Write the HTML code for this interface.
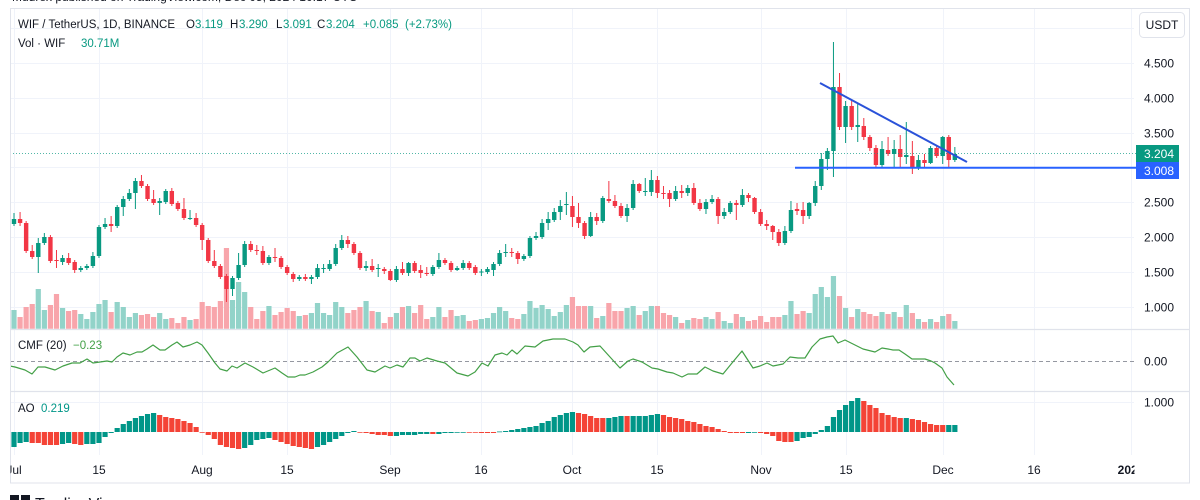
<!DOCTYPE html>
<html>
<head>
<meta charset="utf-8">
<style>
html,body{margin:0;padding:0;background:#fff;width:1200px;height:500px;overflow:hidden}
svg{display:block}
text{font-family:"Liberation Sans",Arial,sans-serif;fill:#131722}
</style>
</head>
<body>
<svg id="chart" width="1200" height="500" viewBox="0 0 1200 500" xmlns="http://www.w3.org/2000/svg">
  <defs>
    <clipPath id="paneClip"><rect x="10.5" y="8.5" width="1124" height="447"/></clipPath>
    <clipPath id="timeClip"><rect x="10.5" y="456" width="1124" height="26"/></clipPath>
  </defs>
  <rect x="0" y="0" width="1200" height="500" fill="#ffffff"/>
  <!-- top clipped attribution line -->
  <text x="12" y="1" font-size="12" fill="#131722">Mudrex published on TradingView.com, Dec 05, 2024 10:17 UTC</text>

  <!-- grid -->
  <g stroke="#f0f3fa" stroke-width="1">
    <line x1="10" y1="28.5" x2="1134" y2="28.5"/>
    <line x1="10" y1="63.5" x2="1134" y2="63.5"/>
    <line x1="10" y1="98.5" x2="1134" y2="98.5"/>
    <line x1="10" y1="133.5" x2="1134" y2="133.5"/>
    <line x1="10" y1="167.5" x2="1134" y2="167.5"/>
    <line x1="10" y1="202.5" x2="1134" y2="202.5"/>
    <line x1="10" y1="237.5" x2="1134" y2="237.5"/>
    <line x1="10" y1="272.5" x2="1134" y2="272.5"/>
    <line x1="10" y1="307.5" x2="1134" y2="307.5"/>
    <line x1="10" y1="402.5" x2="1134" y2="402.5"/>
    <line x1="14.5" y1="8" x2="14.5" y2="455"/>
    <line x1="99.5" y1="8" x2="99.5" y2="455"/>
    <line x1="202.5" y1="8" x2="202.5" y2="455"/>
    <line x1="287.5" y1="8" x2="287.5" y2="455"/>
    <line x1="390.5" y1="8" x2="390.5" y2="455"/>
    <line x1="481.5" y1="8" x2="481.5" y2="455"/>
    <line x1="572.5" y1="8" x2="572.5" y2="455"/>
    <line x1="657.5" y1="8" x2="657.5" y2="455"/>
    <line x1="761.5" y1="8" x2="761.5" y2="455"/>
    <line x1="846.5" y1="8" x2="846.5" y2="455"/>
    <line x1="943.5" y1="8" x2="943.5" y2="455"/>
    <line x1="1034.5" y1="8" x2="1034.5" y2="455"/>
    <line x1="1131.5" y1="8" x2="1131.5" y2="455"/>
  </g>

  <!-- pane separators -->
  <g stroke="#e0e3eb" stroke-width="1.2">
    <line x1="10" y1="329.5" x2="1190" y2="329.5"/>
    <line x1="10" y1="391.5" x2="1190" y2="391.5"/>
  </g>

  <!-- CMF zero line -->
  <line x1="10" y1="361.5" x2="1134" y2="361.5" stroke="#9598a1" stroke-width="1" stroke-dasharray="4 3"/>

  <g id="plots" clip-path="url(#paneClip)"></g>

  <!-- current price dotted line -->
  <line x1="10" y1="153.5" x2="1136" y2="153.5" stroke="#089981" stroke-opacity="0.7" stroke-width="1" stroke-dasharray="1 2"/>

  <!-- trend lines -->
  <line x1="820" y1="83" x2="967" y2="162" stroke="#2a52d9" stroke-width="2"/>
  <line x1="795" y1="167.8" x2="1136" y2="167.8" stroke="#2962ff" stroke-width="2"/>

  <!-- outer frame -->
  <rect x="10.5" y="8.5" width="1179" height="474.5" fill="none" stroke="#e0e3eb" stroke-width="1"/>

  <!-- USDT button -->
  <rect x="1139.5" y="12.5" width="45" height="25" rx="4" ry="4" fill="#ffffff" stroke="#e0e3eb"/>
  <text x="1162" y="29" font-size="12" text-anchor="middle">USDT</text>

  <!-- price axis labels -->
  <g font-size="12">
    <text x="1144" y="67.5">4.500</text>
    <text x="1144" y="102.5">4.000</text>
    <text x="1144" y="137.5">3.500</text>
    <text x="1144" y="206.5">2.500</text>
    <text x="1144" y="241.5">2.000</text>
    <text x="1144" y="276.5">1.500</text>
    <text x="1144" y="311.5">1.000</text>
    <text x="1144" y="365.5">0.00</text>
    <text x="1144" y="406.5">1.000</text>
  </g>
  <rect x="1136" y="145" width="43" height="17" fill="#089981"/>
  <text x="1144" y="158" font-size="12" style="fill:#ffffff">3.204</text>
  <rect x="1136" y="162" width="43" height="17" fill="#2962ff"/>
  <text x="1144" y="175" font-size="12" style="fill:#ffffff">3.008</text>

  <!-- time axis labels -->
  <g font-size="12" text-anchor="middle" clip-path="url(#timeClip)">
    <text x="14" y="474">Jul</text>
    <text x="99" y="474">15</text>
    <text x="202" y="474">Aug</text>
    <text x="287" y="474">15</text>
    <text x="390" y="474">Sep</text>
    <text x="481" y="474">16</text>
    <text x="572" y="474">Oct</text>
    <text x="657" y="474">15</text>
    <text x="761" y="474">Nov</text>
    <text x="846" y="474">15</text>
    <text x="943" y="474">Dec</text>
    <text x="1034" y="474">16</text>
    <text x="1131" y="474" font-weight="bold">2025</text>
  </g>

  <!-- legends -->
  <g font-size="11.5">
    <text x="18" y="28">WIF / TetherUS, 1D, BINANCE</text>
    <text x="186" y="28">O</text><text x="195" y="28" style="fill:#089981">3.119</text>
    <text x="230" y="28">H</text><text x="239" y="28" style="fill:#089981">3.290</text>
    <text x="276" y="28">L</text><text x="283" y="28" style="fill:#089981">3.091</text>
    <text x="317" y="28">C</text><text x="326" y="28" style="fill:#089981">3.204</text>
    <text x="363" y="28" style="fill:#089981">+0.085</text>
    <text x="405" y="28" style="fill:#089981">(+2.73%)</text>
    <text x="18" y="47">Vol · WIF</text>
    <text x="81" y="47" style="fill:#089981">30.71M</text>
    <text x="18" y="349">CMF (20)</text>
    <text x="73" y="349" style="fill:#43a047">−0.23</text>
    <text x="18" y="412">AO</text>
    <text x="41" y="412" style="fill:#009688">0.219</text>
  </g>

  <!-- bottom logo (clipped) -->
  <rect x="10" y="495" width="9" height="6" fill="#131722"/>
  <rect x="21" y="495" width="9" height="6" fill="#131722"/>
  <text x="35" y="509" font-size="16">TradingView</text>
</svg>

<script>
(function(){
var C=[
[224,219,213,226],[219,223,212,226],[223,251],[251,257,245],[257,243,238,273],[243,237,233],[237,261],[260,261,250,268],[262,258,255,265],[258,263,253],
[262,270,0,273],[270,268],[268,266],[266,256,252],[256,227],[227,224,218],[224,226,216,232],[226,207],[207,199,196,216],[199,193,189],
[193,181,178,209],[181,186,175],[186,199],[199,203,190],[203,201,198,215],[202,191,189],[191,204,188],[203,209],[209,218,198],[219,218,210,220],
[218,225,213],[225,240,0,250],[240,261],[261,266,250],[266,277],[276,289,0,302],[289,278,0,296],[278,265,253],[265,244,241],[244,250,241],
[250,251,245,255],[251,263,246],[263,257],[257,258,248,262],[258,267],[267,273],[274,279,0,282],[279,277],[277,279,274],[279,277,0,284],
[277,268,264],[269,268,264,273],[269,264,260],[264,248,244],[248,240,235],[240,244,236,248],[244,253],[253,268],[268,266,261,271],[266,270,259],
[269,268,264,277],[269,271,267,274],[271,280,0,281],[280,269,266],[269,273,262],[273,263,262,276],[263,271],[270,273,265,278],[273,274,267,276],[274,267],
[267,260,253],[260,263,258],[263,270],[270,268,266,271],[268,263,260],[263,268,261],[267,273],[272,271.5,269,276],[272,269,267],[270,264,262,276],
[264,253,250],[253,252,244,257],[252,253,248,257],[253,259,251,264],[259,256],[256,238],[238,236,232,240],[237,223,219],[223,219,212,230],[220,212,208],
[212,206,200,220],[205,204,192,215],[206,217,196,227],[217,223,203,228],[223,236,0,239],[236,217,212,237],[217,221,213,225],[221,198,196],[199,201,181,203],[201,206,195],
[206,216,203,218],[216,208,204,222],[208,184,180],[184,191,183],[192,191,178,196],[192,180,170,196],[180,193,176,198],[193,194,186,199],[193,199,190,207],[199,191,186],
[191,193,185,198],[193,188,185,196],[188,203,183],[203,209,199],[209,202,199,214],[202,199,195],[199,216,0,224],[216,212,208,219],[212,203,201],[203,205,200,220],
[205,195,189],[195,198,193,202],[198,212,197],[212,224,209],[224,226,220,230],[226,232,225,240],[232,243,229,246],[243,231,226],[231,210,201],[209,211,203,215],
[210,216,202,224],[216,203,202,219],[203,186,181,206],[186,159,153,190],[159,151,148,170],[151,87,42,177],[87,127,73,130],[127,106,101,143],[106,127,100,130],[127,125,104,142],
[126,137,118,140],[137,148,135,151],[148,165,145,167],[165,149,141,168],[150,154,137,156],[154,149,140,168],[149,157,135,168],[157,155,122,164],[156,167,141,174],[167,160,155,170],
[160,163,154,168],[163,148,146,164],[148,156,145,158],[156,137,136,164],[137,160,135,167],[160,154,147,162]
];
var V=[310,317,307,304,289,310,305,294,308,311,
310,314,319,312,304,300,312,302,307,317,
313,315,314,317,313,319,318,323,317,320,
319,302,306,307,301,248,300,282,292,307,
319,311,306,315,312,308,311,316,315,313,
303,313,315,302,307,313,310,307,301,311,
312,323,317,313,307,306,313,305,319,317,
307,317,310,316,315,321,320,319,318,313,
307,311,318,319,314,301,308,305,309,316,
312,305,297,306,306,306,318,316,303,311,
311,308,306,315,311,306,306,313,315,317,
323,320,318,319,317,319,312,321,323,314,
317,321,320,316,322,317,317,315,301,314,
311,313,294,287,297,276,296,308,317,309,
312,314,316,312,314,312,317,305,313,319,
322,319,322,316,314,321];
var AO="447g 443g 442g 443r 443r 445r 445r 445r 444g 443g "+
"444r 445r 444g 444g 443g 437g 433g 428g 424g 421g "+
"418g 416g 414g 413g 415r 417r 418r 419r 421r 423r "+
"427r 432r 435r 439r 445r 447r 448r 449r 448g 445g "+
"440g 439g 438g 440r 442r 444r 446r 447r 448r 449r "+
"447g 445g 442g 439g 436g 433g 431g 432.6r 433r 434r "+
"435r 435r 436r 436g 435g 435g 435g 434g 434g 434r "+
"434g 433g 433g 432.6g 432.4g 432.6r 432.6r 433r 433r 433r "+
"431.5g 431g 430g 429g 428g 427g 426g 423g 421g 417g "+
"415g 413g 412g 413r 414r 416r 418r 418r 418g 417g "+
"416g 416r 416g 416g 416g 415g 414g 415r 417r 418r "+
"419r 421r 422r 424r 426r 427r 429r 431r 433r 433r "+
"433r 433g 432.6g 433r 434r 436r 441r 442r 442r 441g "+
"438g 437g 434g 430g 426g 417g 410g 405g 401g 398g "+
"401r 405r 408r 413r 415r 417r 418r 418g 419r 420r "+
"422r 424r 425r 425r 425g 425g";
var CMF=[[10,366],[15,367],[25,370],[32,374],[38,367],[45,367],[55,370],[63,366],[72,363],[80,363],[87,359],[93,363],[100,362],[107,361],[112,362],[117,357],[123,353],[130,355],[137,352],[142,352],[147,349],[153,345],[160,350],[165,350],[172,345],[177,342],[183,347],[190,345],[197,342],[202,345],[208,353],[215,363],[220,369],[227,371],[232,366],[237,368],[245,363],[253,367],[263,373],[275,368],[282,373],[288,377],[295,377],[300,375],[305,375],[313,372],[322,367],[328,362],[337,353],[348,347],[357,357],[367,370],[375,372],[385,366],[390,368],[397,365],[403,367],[410,358],[415,358],[420,361],[427,358],[437,361],[445,363],[457,373],[468,376],[475,372],[482,363],[488,366],[495,355],[502,353],[507,355],[512,350],[517,354],[525,346],[535,347],[543,341],[553,339],[565,339],[573,342],[578,345],[584,352],[590,347],[600,346],[610,357],[620,368],[628,361],[633,359],[642,362],[652,368],[658,369],[667,372],[673,373],[682,377],[688,374],[697,374],[705,367],[713,371],[723,374],[732,363],[742,351],[753,368],[760,366],[767,363],[773,366],[783,364],[790,357],[798,358],[805,358],[812,347],[820,339],[827,337],[833,336],[838,343],[845,340],[853,344],[863,349],[875,352],[882,348],[888,349],[893,350],[899,350],[905,354],[912,359],[918,359],[925,359],[931,361],[935,363],[942,368],[947,377],[954,385]];

function X(d){return 14+d*6.07;}
function f(n){return (Math.round(n*100)/100).toString();}
var gB='',rB='',gW='',rW='',gV='',rV='';
for(var d=0;d<C.length;d++){
  var c=C[d],o=c[0],cl=c[1];
  var x=X(d);
  var top=Math.min(o,cl),bot=Math.max(o,cl);
  var h=c[2]||top-2,l=c[3]||bot+2;
  var bh=Math.max(1,bot-top);
  var body='M'+f(x-2.2)+' '+f(top)+'h4.4v'+f(bh)+'h-4.4Z';
  var wick='M'+f(x-0.5)+' '+f(h)+'h1v'+f(l-h)+'h-1Z';
  var v=V[d];
  var vol='M'+f(x-2.6)+' '+v+'h5.2v'+f(328.8-v)+'h-5.2Z';
  if(cl<o){gB+=body;gW+=wick;gV+=vol;}else{rB+=body;rW+=wick;rV+=vol;}
}
var aoG='',aoR='';
var items=AO.trim().split(/\s+/);
for(var i=0;i<items.length;i++){
  var s=items[i];var y=parseFloat(s);var col=s.charAt(s.length-1);
  var x2=X(i);
  var t=Math.min(y,432),b=Math.max(y,432);
  var hh=Math.max(0.8,b-t);
  var p='M'+f(x2-2.6)+' '+f(t)+'h5.2v'+f(hh)+'h-5.2Z';
  if(col==='g')aoG+=p;else aoR+=p;
}
var pts=CMF.map(function(p){return p[0]+','+p[1];}).join(' ');
var g=document.getElementById('plots');
var ns='http://www.w3.org/2000/svg';
function add(tag,attrs){var e=document.createElementNS(ns,tag);for(var k in attrs)e.setAttribute(k,attrs[k]);g.appendChild(e);return e;}
add('path',{d:gV,fill:'#92d3c9'});
add('path',{d:rV,fill:'#f8a5ab'});
add('path',{d:gW,fill:'#089981'});
add('path',{d:rW,fill:'#f23645'});
add('path',{d:gB,fill:'#089981'});
add('path',{d:rB,fill:'#f23645'});
add('polyline',{points:pts,fill:'none',stroke:'#43a047','stroke-width':'1.2','stroke-linejoin':'round'});
add('path',{d:aoG,fill:'#009688'});
add('path',{d:aoR,fill:'#f44336'});
})();
</script>
</body>
</html>
